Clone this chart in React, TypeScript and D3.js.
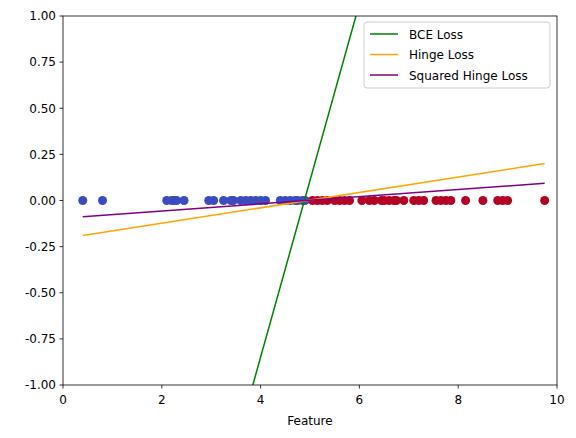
import * as d3 from 'd3';

const blueX = [0.4, 0.8, 2.1, 2.2, 2.25, 2.3, 2.45, 2.95, 3.05, 3.25, 3.4, 3.45, 3.6, 3.7, 3.8, 3.9, 4.0, 4.1, 4.4, 4.5, 4.6, 4.7, 4.75, 4.85, 4.9];
const redX = [5.05, 5.15, 5.25, 5.35, 5.5, 5.6, 5.7, 5.8, 6.05, 6.2, 6.3, 6.45, 6.5, 6.6, 6.7, 6.75, 6.9, 7.1, 7.2, 7.3, 7.55, 7.65, 7.75, 7.85, 8.15, 8.5, 8.8, 8.9, 9.0, 9.75];

const lines = [
  { name: 'BCE Loss', color: 'green', pts: [[3.3, -1.52], [6.4, 1.45]] },
  { name: 'Hinge Loss', color: 'orange', pts: [[0.4, -0.19], [9.75, 0.2]] },
  { name: 'Squared Hinge Loss', color: 'purple', pts: [[0.4, -0.088], [9.75, 0.093]] },
];

const xTicks = [0, 2, 4, 6, 8, 10];
const yTicks = [-1, -0.75, -0.5, -0.25, 0, 0.25, 0.5, 0.75, 1];

export default function App() {
  const W = 576, H = 438;
  const m = { left: 63, right: 557, top: 16, bottom: 385 };
  const x = d3.scaleLinear().domain([0, 10]).range([m.left, m.right]);
  const y = d3.scaleLinear().domain([-1, 1]).range([m.bottom, m.top]);
  const line = d3.line<number[]>().x((d) => x(d[0])).y((d) => y(d[1]));
  const font = 'DejaVu Sans, sans-serif';
  return (
    <svg width={W} height={H} style={{ position: 'absolute', left: 0, top: 0 }} fontFamily={font}>
      <rect width={W} height={H} fill="white" />
      <defs>
        <clipPath id="c"><rect x={m.left} y={m.top} width={m.right - m.left} height={m.bottom - m.top} /></clipPath>
      </defs>
      <g clipPath="url(#c)">
        {blueX.map((v, i) => <circle key={'b' + i} cx={x(v)} cy={y(0)} r={4.5} fill="#3b4cc0" />)}
        {redX.map((v, i) => <circle key={'r' + i} cx={x(v)} cy={y(0)} r={4.5} fill="#b40426" />)}
        {lines.map((l) => (
          <path key={l.name} d={line(l.pts) || ''} stroke={l.color} strokeWidth={1.5} fill="none" />
        ))}
      </g>
      <rect x={m.left} y={m.top} width={m.right - m.left} height={m.bottom - m.top} fill="none" stroke="black" strokeWidth={0.8} />
      {xTicks.map((t) => (
        <g key={t}>
          <line x1={x(t)} x2={x(t)} y1={m.bottom} y2={m.bottom + 3.5} stroke="black" strokeWidth={0.8} />
          <text x={x(t)} y={m.bottom + 19} fontSize={12} textAnchor="middle">{t}</text>
        </g>
      ))}
      {yTicks.map((t) => (
        <g key={t}>
          <line x1={m.left - 3.5} x2={m.left} y1={y(t)} y2={y(t)} stroke="black" strokeWidth={0.8} />
          <text x={m.left - 7} y={y(t) + 4.3} fontSize={12} textAnchor="end">{t.toFixed(2)}</text>
        </g>
      ))}
      <text x={(m.left + m.right) / 2} y={425} fontSize={12} textAnchor="middle">Feature</text>
      <g>
        <rect x={364} y={22} width={186} height={66} rx={3} fill="white" fillOpacity={0.8} stroke="#ccc" />
        {lines.map((l, i) => (
          <g key={l.name}>
            <line x1={370} x2={398} y1={34 + i * 20.5} y2={34 + i * 20.5} stroke={l.color} strokeWidth={1.5} />
            <text x={409} y={38.5 + i * 20.5} fontSize={12}>{l.name}</text>
          </g>
        ))}
      </g>
    </svg>
  );
}
